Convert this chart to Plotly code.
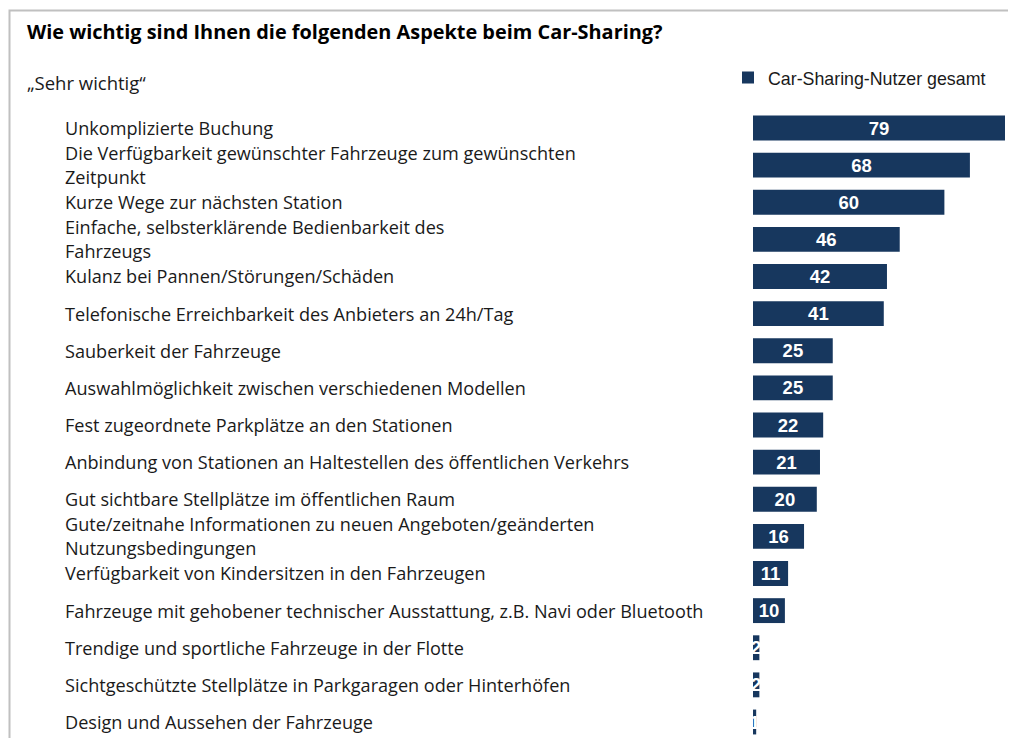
import plotly.graph_objects as go

categories = [
    "Unkomplizierte Buchung",
    "Die Verfügbarkeit gewünschter Fahrzeuge zum gewünschten<br>Zeitpunkt",
    "Kurze Wege zur nächsten Station",
    "Einfache, selbsterklärende Bedienbarkeit des<br>Fahrzeugs",
    "Kulanz bei Pannen/Störungen/Schäden",
    "Telefonische Erreichbarkeit des Anbieters an 24h/Tag",
    "Sauberkeit der Fahrzeuge",
    "Auswahlmöglichkeit zwischen verschiedenen Modellen",
    "Fest zugeordnete Parkplätze an den Stationen",
    "Anbindung von Stationen an Haltestellen des öffentlichen Verkehrs",
    "Gut sichtbare Stellplätze im öffentlichen Raum",
    "Gute/zeitnahe Informationen zu neuen Angeboten/geänderten<br>Nutzungsbedingungen",
    "Verfügbarkeit von Kindersitzen in den Fahrzeugen",
    "Fahrzeuge mit gehobener technischer Ausstattung, z.B. Navi oder Bluetooth",
    "Trendige und sportliche Fahrzeuge in der Flotte",
    "Sichtgeschützte Stellplätze in Parkgaragen oder Hinterhöfen",
    "Design und Aussehen der Fahrzeuge",
]
values = [79, 68, 60, 46, 42, 41, 25, 25, 22, 21, 20, 16, 11, 10, 2, 2, 1]
series_name = "Car-Sharing-Nutzer gesamt"
title_text = "Wie wichtig sind Ihnen die folgenden Aspekte beim Car-Sharing?"
subtitle_text = "„Sehr wichtig“"

W, H = 1016, 738
OFF = 8  # page body margin offset
BAR_COLOR = "#17375E"
LABEL_FONT = "Open Sans"


def px_x(x):
    return (x - OFF) / W


def px_y(y):
    return 1 - (y - OFF) / H


idx = list(range(len(categories)))

fig = go.Figure()
fig.add_trace(go.Bar(
    x=values,
    y=idx,
    orientation="h",
    name=series_name,
    marker=dict(color=BAR_COLOR, line=dict(width=0)),
    width=0.67,
    text=[str(v) for v in values],
    textposition="inside",
    insidetextanchor="middle",
    textangle=0,
    textfont=dict(family="Liberation Sans", size=18.5, color="white", weight="bold"),
    hoverinfo="skip",
))

# category labels, left aligned
for i, c in enumerate(categories):
    fig.add_annotation(
        x=px_x(63), xref="paper", xanchor="left",
        y=i, yref="y", yanchor="middle",
        text=c, showarrow=False, align="left",
        font=dict(family=LABEL_FONT, size=18.1, color="#1a1a1a"),
    )

fig.add_annotation(
    x=px_x(25), xref="paper", xanchor="left",
    y=px_y(32), yref="paper", yanchor="middle",
    text="<b>" + title_text + "</b>", showarrow=False,
    font=dict(family=LABEL_FONT, size=19.9, color="#000000"),
)
fig.add_annotation(
    x=px_x(25), xref="paper", xanchor="left",
    y=px_y(83), yref="paper", yanchor="middle",
    text=subtitle_text, showarrow=False,
    font=dict(family=LABEL_FONT, size=18.5, color="#1a1a1a"),
)

# slide frame
fig.add_shape(type="rect", xref="paper", yref="paper",
              x0=1.5 / W, x1=1.05, y0=-0.05, y1=px_y(10.5),
              line=dict(color="#c0c0c0", width=2), fillcolor="rgba(0,0,0,0)", layer="below")

pitch = 37.125
top_px = 128 - pitch / 2 - OFF
bottom_idx = (H + OFF - 128) / pitch
fig.update_layout(
    width=W, height=H,
    margin=dict(l=0, r=0, t=0, b=0),
    paper_bgcolor="white", plot_bgcolor="rgba(0,0,0,0)",
    showlegend=True,
    legend=dict(x=px_x(728), y=px_y(78), xanchor="left", yanchor="middle",
                font=dict(family="Liberation Sans", size=17.8, color="#1a1a1a"),
                bgcolor="rgba(0,0,0,0)", itemwidth=30),
    uniformtext=dict(minsize=18.5, mode="show"),
    xaxis=dict(domain=[px_x(753), 1], range=[0, (W + OFF - 753) / ((1005 - 753) / 79)],
               visible=False, fixedrange=True),
    yaxis=dict(domain=[0, 1 - top_px / H], range=[bottom_idx, -0.5],
               visible=False, fixedrange=True),
)

fig.write_html("out.html")
